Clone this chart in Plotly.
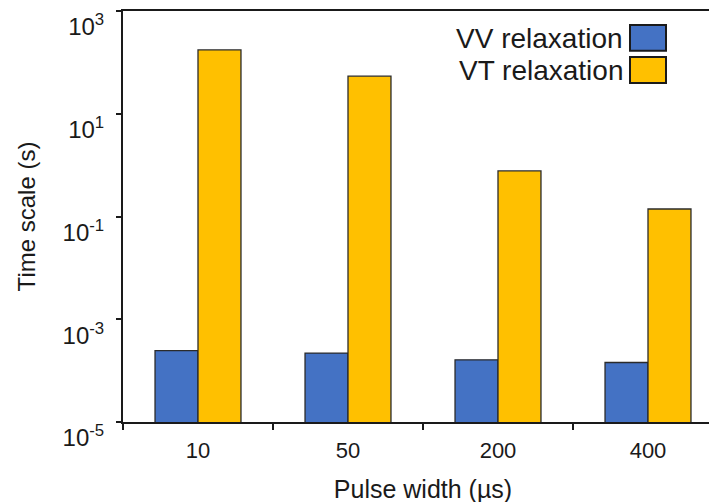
import plotly.graph_objects as go

# dados
pulse_width = ["10", "50", "200", "400"]
vv_relaxation = [2.45e-4, 2.2e-4, 1.62e-4, 1.44e-4]
vt_relaxation = [175, 54, 0.77, 0.14]
series_names = ["VV relaxation", "VT relaxation"]
y_tickvals = [1e-5, 1e-3, 1e-1, 1e1, 1e3]
y_ticktext = ["10<sup>-5</sup>", "10<sup>-3</sup>", "10<sup>-1</sup>", "10<sup>1</sup>", "10<sup>3</sup>"]

cores = ["#4472C4", "#FFC000"]
fonte = "Arial, Liberation Sans, sans-serif"

fig = go.Figure()
for nome, valores, cor in zip(series_names, [vv_relaxation, vt_relaxation], cores):
    fig.add_trace(go.Bar(
        x=pulse_width, y=valores, name=nome,
        marker=dict(color=cor, line=dict(color="#2b2b2b", width=1.3)),
    ))

# a página tem 8px de margem no body, por isso as margens já descontam isso
fig.update_layout(
    width=717, height=502,
    margin=dict(l=115, r=2, t=3, b=88),
    paper_bgcolor="white",
    plot_bgcolor="white",
    barmode="group",
    bargap=0.427,
    bargroupgap=0,
    showlegend=False,
    font=dict(family=fonte, color="#1a1a1a", size=22),
    xaxis=dict(
        type="category",
        range=[-0.5, 3.5],
        automargin=False,
        showline=True, linecolor="#1a1a1a", linewidth=2, mirror=True,
        ticks="outside", tickson="boundaries", ticklen=6, tickwidth=1.5, tickcolor="#1a1a1a",
        ticklabelstandoff=8,
        tickfont=dict(size=22, family=fonte),
        showgrid=False,
        title=dict(text="Pulse width (µs)", font=dict(size=25, family=fonte), standoff=18),
    ),
    yaxis=dict(
        type="log",
        range=[-5, 3.0005],
        automargin=False,
        tickvals=y_tickvals, ticktext=y_ticktext,
        showline=True, linecolor="#1a1a1a", linewidth=2,
        ticks="outside", ticklen=5, tickwidth=1.5, tickcolor="#1a1a1a",
        ticklabelstandoff=7, ticklabelshift=16, ticklabeloverflow="allow",
        tickfont=dict(size=24, family=fonte),
        showgrid=False,
        title=dict(text="Time scale (s)", font=dict(size=24, family=fonte), standoff=20),
    ),
)

# legenda com o quadrado à direita do texto, como no original
legenda_y = [(0.934, 0.903, 0.966), (0.856, 0.825, 0.888)]
for nome, cor, (yc, y0, y1) in zip(series_names, cores, legenda_y):
    fig.add_annotation(
        x=0.837, y=yc, xref="paper", yref="paper", text=nome, showarrow=False,
        xanchor="right", yanchor="middle", font=dict(size=28, family=fonte, color="#1a1a1a"),
    )
    fig.add_shape(
        type="rect", xref="paper", yref="paper", x0=0.845, x1=0.905, y0=y0, y1=y1,
        fillcolor=cor, line=dict(color="#1a1a1a", width=2),
    )

fig.write_html("out.html")
